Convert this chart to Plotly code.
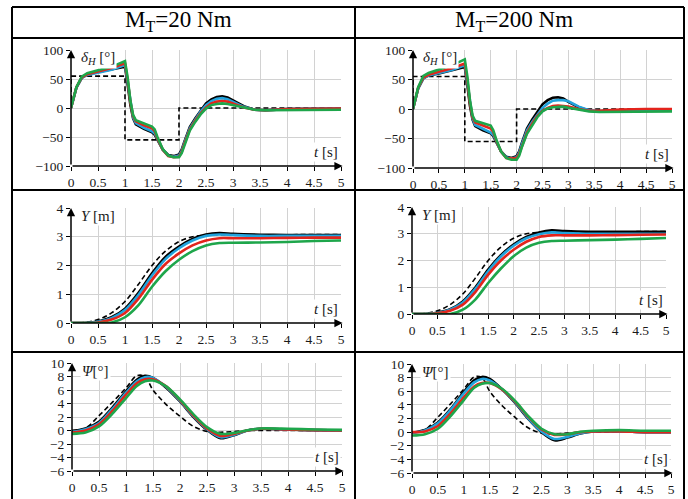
import plotly.graph_objects as go

W, H = 688, 499

# ---------------- DATA ----------------
HEADERS = ["M<sub>T</sub>=20 Nm", "M<sub>T</sub>=200 Nm"]
X_TICKS = [0, 0.5, 1, 1.5, 2, 2.5, 3, 3.5, 4, 4.5, 5]
X_TICK_TEXT = ["0", "0.5", "1", "1.5", "2", "2.5", "3", "3.5", "4", "4.5", "5"]
Y_TICKS_DELTA = [-100, -50, 0, 50, 100]
Y_TICKS_Y = [0, 1, 2, 3, 4]
Y_TICKS_PSI = [-6, -4, -2, 0, 2, 4, 6, 8, 10]

# steering angle delta_H [deg]
T_DELTA = [0, 0.1, 0.2, 0.3, 0.5, 0.75, 1.0, 1.05, 1.1, 1.15, 1.2, 1.35, 1.5, 1.55, 1.6, 1.7,
           1.8, 1.9, 2.0, 2.05, 2.1, 2.2, 2.3, 2.4, 2.5, 2.6, 2.7, 2.8, 2.9, 3.0, 3.2, 3.4,
           3.6, 4.0, 4.5, 5.0]
T_DELTA_REF = [0, 0, 1.0, 1.0, 2.0, 2.0, 5.0]
DELTA_REF = [0, 55, 55, -55, -55, 0, 0]

DELTA20_BLACK = [0, 35, 52, 58, 62, 66, 71, 40, 5, -18, -28, -36, -42, -46, -55, -72,
                 -81, -83, -80, -72, -58, -33, -18, -4, 8, 15, 19, 20, 18, 13, 3, -3,
                 -4, -2, -1, -1]
DELTA20_BLUE = [0, 35, 52, 57, 61, 66, 74, 45, 8, -16, -26, -34, -40, -44, -53, -72,
                -82, -84, -82, -74, -60, -35, -20, -6, 5, 12, 16, 17, 15, 11, 2, -3,
                -4, -2, -1, -1]
DELTA20_RED = [0, 36, 53, 58, 63, 69, 77, 48, 10, -14, -23, -30, -35, -40, -52, -72,
               -83, -85, -84, -76, -62, -37, -22, -9, 1, 8, 11, 12, 11, 8, 1, -3,
               -4, -2, -1, -1]
DELTA20_GREEN = [0, 36, 54, 60, 65, 71, 81, 52, 12, -12, -21, -27, -32, -37, -50, -71,
                 -82, -85, -85, -78, -64, -39, -24, -11, -1, 5, 7, 8, 7, 5, 0, -3,
                 -4, -4, -4, -3]

DELTA200_BLACK = [0, 35, 52, 57, 60, 65, 71, 40, 5, -18, -29, -36, -41, -46, -55, -72,
                  -81, -83, -80, -72, -58, -33, -18, -4, 8, 15, 19, 20, 18, 12, 3, -3,
                  -4, -2, -2, -2]
DELTA200_BLUE = [0, 35, 52, 57, 61, 66, 74, 45, 8, -16, -27, -34, -40, -44, -53, -72,
                 -82, -84, -82, -74, -60, -36, -22, -9, 2, 9, 14, 15, 15, 13, 4, -2,
                 -4, -3, -2, -2]
DELTA200_RED = [0, 36, 53, 58, 63, 69, 77, 48, 10, -14, -23, -28, -33, -39, -52, -72,
                -83, -84, -83, -76, -63, -40, -25, -12, -3, 2, 5, 6, 5, 4, 0, -3,
                -3, -1, 0, 0]
DELTA200_GREEN = [0, 37, 56, 61, 67, 74, 84, 55, 14, -11, -20, -24, -28, -36, -50, -72,
                  -83, -86, -86, -79, -65, -42, -27, -14, -4, 1, 3, 4, 4, 2, -1, -4,
                  -5, -5, -4, -4]

# lateral displacement Y [m]
T_Y = [0, 0.25, 0.5, 0.75, 1.0, 1.25, 1.5, 1.75, 2.0, 2.25, 2.5, 2.75, 3.0, 3.5, 4.0, 4.5, 5.0]
Y_REF = [0, 0.02, 0.12, 0.35, 0.75, 1.35, 2.0, 2.5, 2.83, 3.0, 3.05, 3.07, 3.07, 3.07, 3.07, 3.08, 3.08]

Y20_BLACK = [0, 0, 0.05, 0.2, 0.5, 1.05, 1.73, 2.3, 2.66, 2.92, 3.08, 3.13, 3.1, 3.07, 3.06, 3.06, 3.06]
Y20_BLUE = [0, 0, 0.04, 0.17, 0.45, 0.98, 1.65, 2.22, 2.6, 2.87, 3.03, 3.08, 3.06, 3.03, 3.03, 3.03, 3.03]
Y20_RED = [0, 0, 0.02, 0.12, 0.35, 0.85, 1.5, 2.05, 2.42, 2.7, 2.87, 2.95, 2.95, 2.95, 2.96, 2.97, 2.97]
Y20_GREEN = [0, 0, 0, 0.02, 0.2, 0.62, 1.26, 1.8, 2.2, 2.5, 2.7, 2.78, 2.79, 2.8, 2.82, 2.85, 2.87]

Y200_BLACK = [0, 0, 0.05, 0.18, 0.47, 1.0, 1.66, 2.2, 2.6, 2.88, 3.05, 3.13, 3.1, 3.07, 3.07, 3.07, 3.07]
Y200_BLUE = [0, 0, 0.04, 0.16, 0.43, 0.95, 1.6, 2.15, 2.55, 2.83, 2.98, 3.05, 3.03, 3.0, 3.0, 3.0, 3.0]
Y200_RED = [0, 0, 0.03, 0.12, 0.35, 0.83, 1.47, 2.0, 2.4, 2.7, 2.88, 2.94, 2.94, 2.94, 2.95, 2.96, 2.97]
Y200_GREEN = [0, 0, 0, 0, 0.16, 0.55, 1.16, 1.7, 2.16, 2.48, 2.66, 2.73, 2.74, 2.76, 2.78, 2.81, 2.84]

# yaw angle Psi [deg]
T_PSI = [0, 0.25, 0.5, 0.75, 1.0, 1.2, 1.35, 1.5, 1.75, 2.0, 2.25, 2.5, 2.75, 3.0, 3.25, 3.5, 4.0, 4.5, 5.0]
PSI_REF = [0, 0.35, 2.2, 4.2, 6.3, 8.1, 8.0, 6.0, 3.8, 2.1, 0.6, -0.15, -0.25, -0.15, 0, 0, 0, 0, 0]

PSI20_BLACK = [-0.1, 0.3, 1.3, 3.4, 5.8, 7.5, 8.1, 7.8, 6.3, 4.3, 2.0, 0.1, -1.15, -0.7, 0, 0.25, 0.15, 0.05, 0]
PSI20_BLUE = [-0.2, 0.2, 1.1, 3.2, 5.6, 7.3, 7.9, 7.8, 6.4, 4.4, 2.1, 0.2, -1.0, -0.65, 0, 0.25, 0.15, 0.05, 0]
PSI20_RED = [-0.3, 0.0, 0.9, 2.9, 5.3, 7.0, 7.6, 7.6, 6.5, 4.5, 2.2, 0.3, -0.8, -0.5, 0, 0.25, 0.15, 0.05, 0]
PSI20_GREEN = [-0.5, -0.3, 0.6, 2.5, 4.8, 6.6, 7.3, 7.4, 6.5, 4.6, 2.4, 0.5, -0.5, -0.35, 0.05, 0.3, 0.25, 0.15, 0.1]

PSI200_BLACK = [-0.1, 0.3, 1.4, 3.4, 5.9, 7.6, 8.1, 7.8, 6.2, 4.2, 1.9, 0.0, -1.2, -0.8, -0.2, 0.1, 0.1, 0, 0]
PSI200_BLUE = [-0.1, 0.25, 1.3, 3.3, 5.7, 7.3, 7.8, 7.6, 6.2, 4.3, 2.0, 0.1, -1.0, -0.7, -0.15, 0.1, 0.1, 0, 0]
PSI200_RED = [0.0, 0.1, 0.9, 2.8, 5.1, 6.7, 7.2, 7.2, 6.2, 4.4, 2.2, 0.4, -0.4, -0.3, 0, 0.1, 0.1, 0, 0]
PSI200_GREEN = [-0.5, -0.3, 0.5, 2.4, 4.7, 6.5, 7.1, 7.2, 6.3, 4.5, 2.3, 0.5, -0.3, -0.3, 0.05, 0.2, 0.3, 0.2, 0.2]

# ---------------- STYLE ----------------
COLORS = ["#000000", "#22a3dc", "#e3241c", "#1ea64b"]
FONT = "Liberation Serif, Times New Roman, Times, serif"
GRID = "#d2d2d2"
TICK_SIZE = 13.5


def px(x):
    return x / W


def py(y):
    return 1 - y / H


panels = [
    dict(box=(71, 341, 50, 166), t=T_DELTA, rt=T_DELTA_REF, ref=DELTA_REF,
         series=[DELTA20_BLACK, DELTA20_BLUE, DELTA20_RED, DELTA20_GREEN],
         yr=(-100, 100), yt=Y_TICKS_DELTA, label="<i>δ</i><sub><i>H</i></sub> [°]", shape="linear"),
    dict(box=(413, 672, 50, 168), t=T_DELTA, rt=T_DELTA_REF, ref=DELTA_REF,
         series=[DELTA200_BLACK, DELTA200_BLUE, DELTA200_RED, DELTA200_GREEN],
         yr=(-100, 100), yt=Y_TICKS_DELTA, label="<i>δ</i><sub><i>H</i></sub> [°]", shape="linear"),
    dict(box=(71, 341, 208, 323), t=T_Y, rt=T_Y, ref=Y_REF,
         series=[Y20_BLACK, Y20_BLUE, Y20_RED, Y20_GREEN],
         yr=(0, 4), yt=Y_TICKS_Y, label="<i>Y</i> [m]", shape="spline"),
    dict(box=(412, 666, 207, 314), t=T_Y, rt=T_Y, ref=Y_REF,
         series=[Y200_BLACK, Y200_BLUE, Y200_RED, Y200_GREEN],
         yr=(0, 4), yt=Y_TICKS_Y, label="<i>Y</i> [m]", shape="spline"),
    dict(box=(72, 342, 363, 471), t=T_PSI, rt=T_PSI, ref=PSI_REF,
         series=[PSI20_BLACK, PSI20_BLUE, PSI20_RED, PSI20_GREEN],
         yr=(-6, 10), yt=Y_TICKS_PSI, label="<i>Ψ</i>[°]", shape="spline"),
    dict(box=(412, 671, 364, 473), t=T_PSI, rt=T_PSI, ref=PSI_REF,
         series=[PSI200_BLACK, PSI200_BLUE, PSI200_RED, PSI200_GREEN],
         yr=(-6, 10), yt=Y_TICKS_PSI, label="<i>Ψ</i>[°]", shape="spline"),
]

fig = go.Figure()
annotations = []
layout = {}

for i, p in enumerate(panels, start=1):
    sx = "" if i == 1 else str(i)
    xref, yref = "x" + sx, "y" + sx
    x0, x1, yt0, yb = p["box"]
    ymin, ymax = p["yr"]
    ref_shape = "linear" if p["shape"] == "linear" else "spline"
    fig.add_trace(go.Scatter(x=p["rt"], y=p["ref"], mode="lines", xaxis=xref, yaxis=yref,
                             line=dict(color="black", width=1.6, dash="5px,3px", shape=ref_shape),
                             showlegend=False, hoverinfo="skip"))
    for s, c in zip(p["series"], COLORS):
        fig.add_trace(go.Scatter(x=p["t"], y=s, mode="lines", xaxis=xref, yaxis=yref,
                                 line=dict(color=c, width=2.6, shape=p["shape"], smoothing=0.8),
                                 showlegend=False, hoverinfo="skip"))
    layout["xaxis" + sx] = dict(domain=[px(x0), px(x1)], range=[0, 5], anchor=yref,
                                tickvals=X_TICKS, ticktext=X_TICK_TEXT, automargin=False,
                                showgrid=True, gridcolor=GRID, gridwidth=1, zeroline=False,
                                showline=False, ticks="outside", ticklen=4, tickcolor="black",
                                tickfont=dict(family=FONT, size=TICK_SIZE, color="#1a1a1a"))
    layout["yaxis" + sx] = dict(domain=[py(yb), py(yt0)], range=[ymin, ymax], anchor=xref,
                                tickvals=p["yt"], showgrid=True, gridcolor=GRID, gridwidth=1,
                                zeroline=False, showline=False, ticks="outside", ticklen=4,
                                tickcolor="black", automargin=False,
                                tickfont=dict(family=FONT, size=TICK_SIZE, color="#1a1a1a"))
    annotations.append(dict(x=5.03, y=ymin, ax=0, ay=ymin, xref=xref, yref=yref, axref=xref, ayref=yref,
                            text="", showarrow=True, arrowhead=2, arrowsize=1.1, arrowwidth=1.5,
                            arrowcolor="black"))
    annotations.append(dict(x=0, y=ymax, ax=0, ay=ymin, xref=xref, yref=yref, axref=xref, ayref=yref,
                            text="", showarrow=True, arrowhead=2, arrowsize=1.1, arrowwidth=1.5,
                            arrowcolor="black"))
    annotations.append(dict(x=px(x0 + 8), y=py(yt0 + 8), xref="paper", yref="paper",
                            text=p["label"], showarrow=False, xanchor="left", yanchor="middle",
                            font=dict(family=FONT, size=15, color="#1a1a1a"), bgcolor="white"))
    annotations.append(dict(x=px(x1 - 1), y=py(yb - 14), xref="paper", yref="paper",
                            text="<i>t</i> [s]", showarrow=False, xanchor="right", yanchor="middle",
                            font=dict(family=FONT, size=15, color="#1a1a1a"), bgcolor="white"))

annotations.append(dict(x=px(178), y=py(21), xref="paper", yref="paper", text=HEADERS[0],
                        showarrow=False, xanchor="center", yanchor="middle",
                        font=dict(family=FONT, size=23, color="black")))
annotations.append(dict(x=px(514), y=py(21), xref="paper", yref="paper", text=HEADERS[1],
                        showarrow=False, xanchor="center", yanchor="middle",
                        font=dict(family=FONT, size=23, color="black")))

shapes = []
lw = 2
for yl in (7, 38, 190, 352):
    shapes.append(dict(type="line", xref="paper", yref="paper", x0=px(12), x1=px(684),
                       y0=py(yl), y1=py(yl), line=dict(color="black", width=lw)))
for xl in (12, 355, 684):
    shapes.append(dict(type="line", xref="paper", yref="paper", x0=px(xl), x1=px(xl),
                       y0=py(7), y1=py(502), line=dict(color="black", width=lw)))

fig.update_layout(width=W, height=H, margin=dict(l=0, r=0, t=0, b=0, autoexpand=False),
                  paper_bgcolor="white", plot_bgcolor="white",
                  annotations=annotations, shapes=shapes, **layout)

fig.write_html("out.html", config={"displayModeBar": False},
               post_script="document.body.style.margin='0px';document.body.style.overflow='hidden';")
